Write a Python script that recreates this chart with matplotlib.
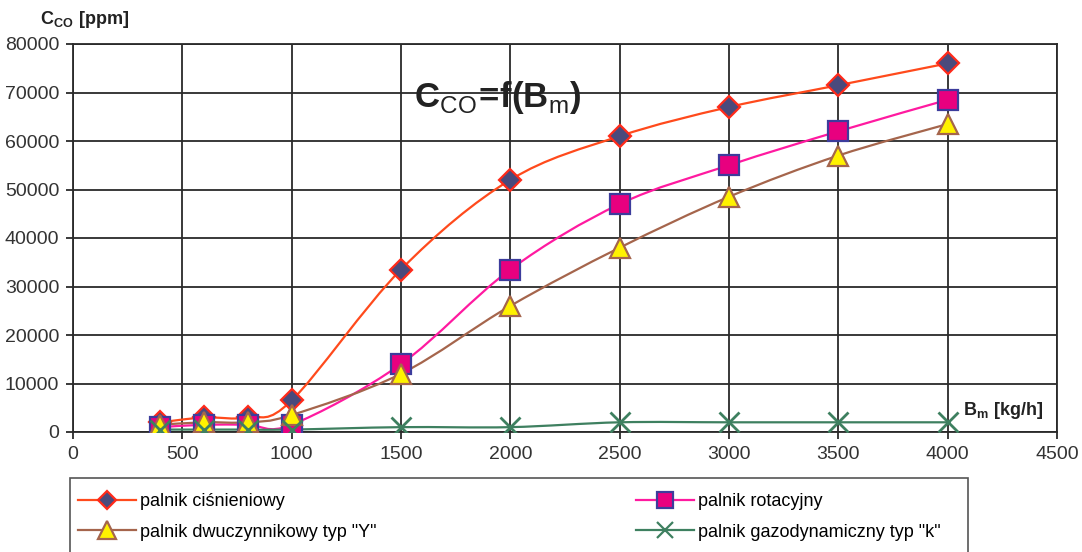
import matplotlib
matplotlib.use("Agg")
import matplotlib.pyplot as plt
from matplotlib.path import Path
from matplotlib.patches import PathPatch, Rectangle
from matplotlib.lines import Line2D

plt.rcParams['font.family'] = ['Liberation Sans', 'DejaVu Sans']
plt.rcParams['mathtext.fontset'] = 'custom'
plt.rcParams['mathtext.rm'] = 'Liberation Sans'
plt.rcParams['mathtext.bf'] = 'Liberation Sans:bold'

# fuel flow B_m [kg/h] and CO concentration [ppm] for each burner type
bm = [400, 600, 800, 1000, 1500, 2000, 2500, 3000, 3500, 4000]
co_cisnieniowy = [2000, 3000, 3000, 6500, 33500, 52000, 61000, 67000, 71500, 76000]
co_rotacyjny = [1000, 1500, 1500, 1500, 14000, 33500, 47000, 55000, 62000, 68500]
co_dwuczynnikowy = [1500, 2000, 2000, 3500, 12000, 26000, 38000, 48500, 57000, 63500]
co_gazodynamiczny = [500, 500, 500, 500, 1000, 1000, 2000, 2000, 2000, 2000]

x_ticks = list(range(0, 4501, 500))
y_ticks = list(range(0, 80001, 10000))


def smooth_path(xs, ys):
    # cubic Bezier through every point (Catmull-Rom style control points)
    pts = list(zip(xs, ys))
    verts = [pts[0]]
    codes = [Path.MOVETO]
    n = len(pts)
    for i in range(n - 1):
        p0 = pts[i - 1] if i > 0 else pts[i]
        p1 = pts[i]
        p2 = pts[i + 1]
        p3 = pts[i + 2] if i + 2 < n else pts[i + 1]
        c1 = (p1[0] + (p2[0] - p0[0]) / 6, p1[1] + (p2[1] - p0[1]) / 6)
        c2 = (p2[0] - (p3[0] - p1[0]) / 6, p2[1] - (p3[1] - p1[1]) / 6)
        verts += [c1, c2, p2]
        codes += [Path.CURVE4] * 3
    return Path(verts, codes)


fig = plt.figure(figsize=(10.82, 5.52), dpi=100)
ax = fig.add_axes([73 / 1082, 120 / 552, 984 / 1082, 388 / 552])

# drawn in this order: diamond at the back, cross on top
series = [
    (co_cisnieniowy, '#ff4a1c', 'D', '#4a4a7c', '#ff2a1a', 11, 'palnik ciśnieniowy'),
    (co_rotacyjny, '#ff1aa0', 's', '#e8007f', '#3c3c9c', 14, 'palnik rotacyjny'),
    (co_dwuczynnikowy, '#a5654c', '^', '#fff200', '#a5654c', 15, 'palnik dwuczynnikowy typ "Y"'),
    (co_gazodynamiczny, '#3e8060', 'x', '#3e8060', '#3e8060', 14, 'palnik gazodynamiczny typ "k"'),
]

handles = {}
for ys, lc, mk, fc, ec, ms, label in series:
    ax.add_patch(PathPatch(smooth_path(bm, ys), fill=False, edgecolor=lc, lw=1.6, zorder=3))
for ys, lc, mk, fc, ec, ms, label in series:
    ax.plot(bm, ys, ls='none', marker=mk, ms=ms, mfc=fc, mec=ec,
            mew=2 if mk == 'x' else 1.6, zorder=4)
    handles[label] = Line2D([], [], color=lc, lw=1.6, marker=mk, ms=ms * 0.85,
                            mfc=fc, mec=ec, mew=1.6, label=label)

ax.set_xlim(0, 4500)
ax.set_ylim(0, 80000)
ax.set_xticks(x_ticks)
ax.set_yticks(y_ticks)
ax.grid(True, color='#2a2a2a', lw=1.3)
ax.set_axisbelow(True)
for s in ax.spines.values():
    s.set_color('#2a2a2a')
    s.set_linewidth(1.3)
ax.tick_params(labelsize=14, length=5, width=1.3, color='#2a2a2a', labelcolor='#333333', pad=5)

fig.text(40 / 1082, 1 - 20 / 552, r'$\mathbf{C}_{\mathbf{CO}}\ \mathbf{[ppm]}$',
         fontsize=13, color='#222222', va='center', ha='left')
ax.text(4070, 4500, r'$\mathbf{B}_{\mathbf{m}}\ \mathbf{[kg/h]}$', fontsize=13,
        color='#222222', va='center', ha='left')
ax.text(1560, 69000,
        r'$\mathbf{C}_{\mathrm{CO}}\!\mathbf{=}\!\mathbf{f(B}_{\mathrm{m}}\mathbf{)}$',
        fontsize=25, color='#222222', va='center', ha='left')

# legend box below the plot, two columns placed separately
fig.patches.append(Rectangle((70 / 1082, -0.05), 898 / 1082, (552 - 478) / 552 + 0.05,
                             transform=fig.transFigure, fill=False,
                             edgecolor='#555555', lw=1.2))
legend_font = {'family': ['Liberation Sans Narrow', 'Liberation Sans'], 'size': 13}
columns = [
    (78, ['palnik ciśnieniowy', 'palnik dwuczynnikowy typ "Y"']),
    (636, ['palnik rotacyjny', 'palnik gazodynamiczny typ "k"']),
]
for x_px, labels in columns:
    leg = fig.legend(handles=[handles[k] for k in labels], ncol=1, loc='upper left',
                     frameon=False, bbox_to_anchor=(x_px / 1082, 1 - 493 / 552),
                     borderaxespad=0, borderpad=0, handlelength=3.2, handletextpad=0.25,
                     labelspacing=0.75, prop=legend_font)

fig.savefig('out.png', dpi=100)
